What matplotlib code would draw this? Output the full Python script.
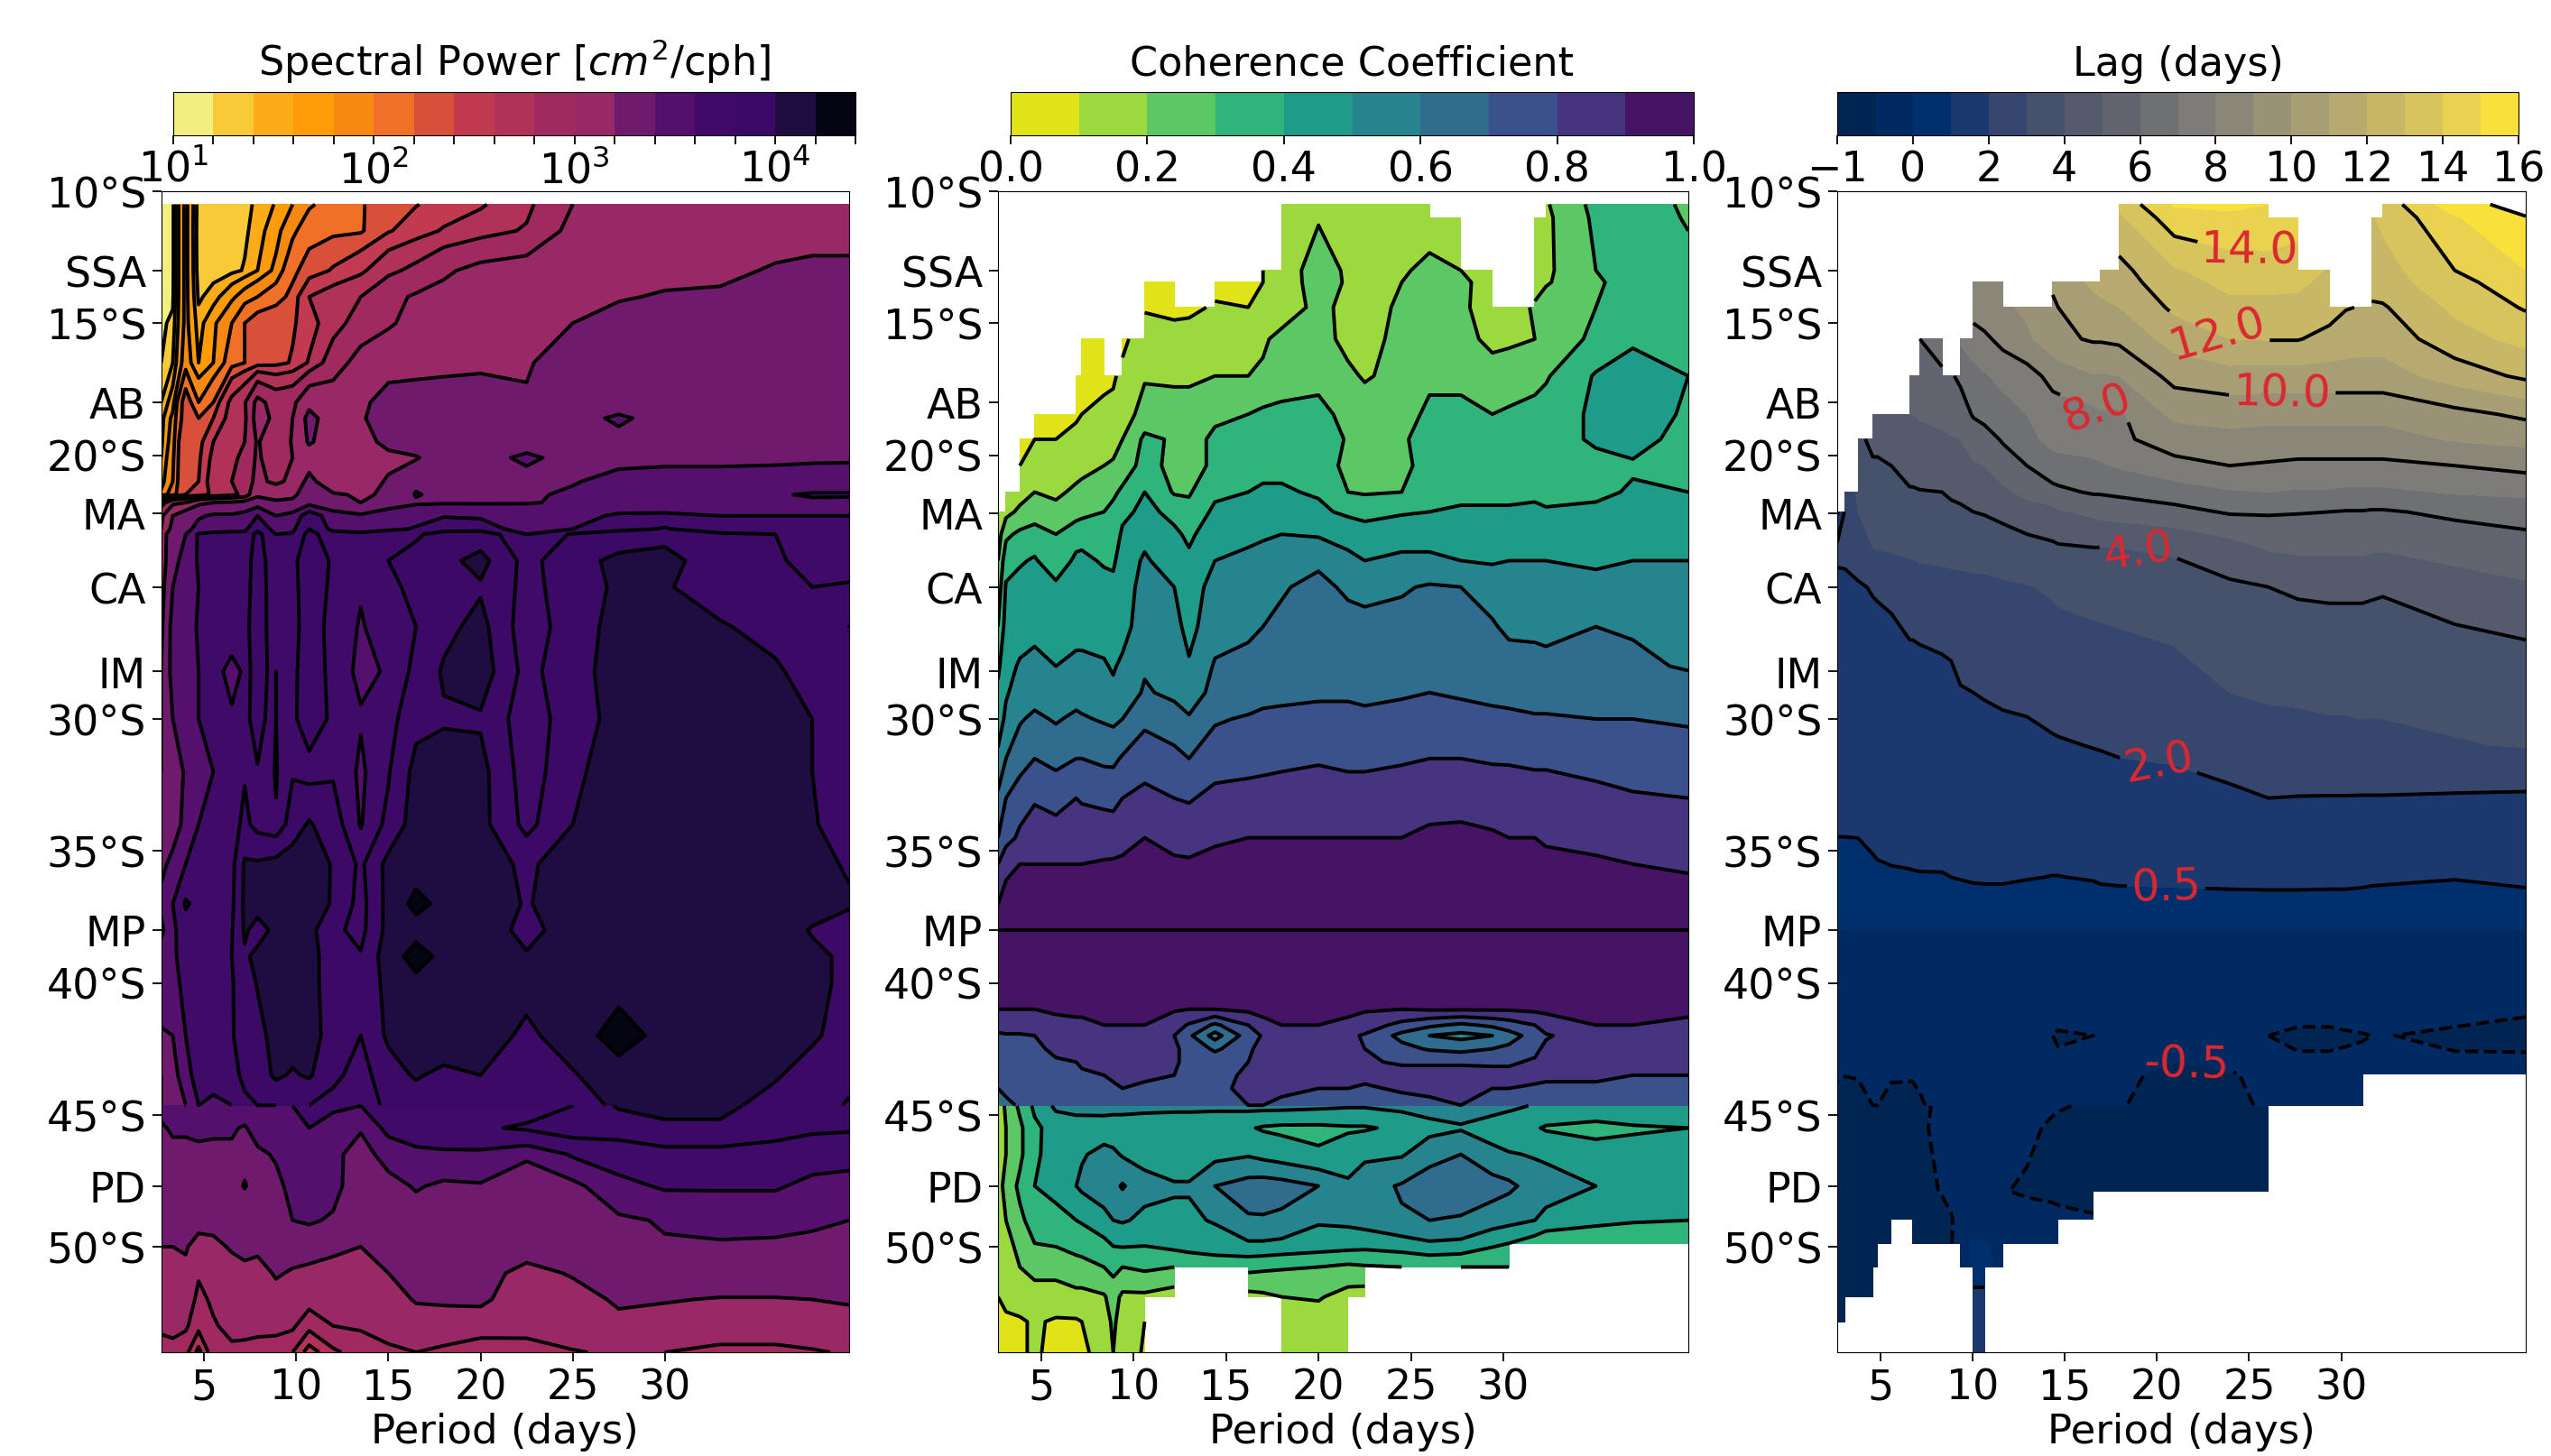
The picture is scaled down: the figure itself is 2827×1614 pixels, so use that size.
import numpy as np
import matplotlib
matplotlib.use('Agg')
from matplotlib import pyplot as plt
from matplotlib.colors import LogNorm

plt.rcParams['font.size'] = 33

n = np.nan
W, H = 2827, 1615

lat_ticks = [10, 13, 15, 18, 20, 22.2, 25, 28.2, 30, 35, 38, 40, 45, 47.7, 50]
lat_labels = ['10°S', 'SSA', '15°S', 'AB', '20°S', 'MA', 'CA', 'IM', '30°S', '35°S', 'MP', '40°S', '45°S', 'PD', '50°S']
period_ticks = [5, 10, 15, 20, 25, 30]

# Spectral power, log10 of cm2/cph times 100
power_periods = [2.67, 3.3, 4, 4.7, 5.5, 6.5, 7.2, 7.9, 8.9, 9.8, 10.7, 12, 13.5, 15, 16.5, 18, 20, 22.5, 25, 27.5, 30, 33, 36, 38, 40]
power_lats = [10.5, 11.5, 13, 14, 15, 16.5, 18, 18.6, 19.5, 20.1, 21, 21.5, 21.8, 22.3, 22.8, 23, 24, 25, 26.5, 28.2, 30, 32, 34, 35.5, 37, 38, 39, 40, 42, 43.5, 44.64, 44.66, 45.5, 46.5, 47.7, 49, 50, 51, 52, 53, 54]
power_log = [
    [110,112,185,125,130,135,137,142,162,180,197,208,218,230,239,247,257,275,300,310,310,310,310,310,310],
    [112,112,185,122,125,130,135,150,172,195,212,215,217,238,250,262,272,282,305,310,310,310,310,310,310],
    [115,112,185,125,128,133,142,160,185,215,228,242,255,275,285,297,305,308,310,312,313,315,322,325,325],
    [115,115,185,135,150,175,190,200,212,225,260,270,280,295,302,305,310,312,314,318,322,323,323,323,323],
    [115,125,185,150,175,200,220,230,233,237,250,272,288,298,305,308,310,313,320,328,328,328,328,328,328],
    [120,140,190,160,180,210,220,228,233,242,262,290,307,310,313,317,318,319,325,330,330,330,330,330,330],
    [140,170,230,200,220,265,278,305,292,295,315,310,315,328,328,325,325,321,330,333,335,335,335,335,335],
    [150,185,230,220,240,268,275,308,295,300,325,310,318,328,330,330,332,333,335,342,335,335,335,335,335],
    [155,190,240,230,260,270,280,302,280,302,322,310,312,325,332,330,335,335,336,336,335,335,335,335,335],
    [160,195,240,235,265,275,285,303,285,300,310,308,310,315,318,332,336,342,336,336,336,336,337,338,338],
    [170,200,240,240,270,280,290,305,295,305,325,305,310,322,337,330,333,336,339,344,346,346,346,346,347],
    [185,210,240,245,265,275,285,318,315,318,325,322,318,322,341,336,337,338,342,346,348,352,358,362,362],
    [270,295,300,315,320,322,325,325,322,322,330,322,320,335,338,338,338,339,342,350,352,354,356,356,355],
    [295,320,330,338,342,342,345,360,340,345,370,348,342,345,350,358,356,350,355,362,362,360,360,360,360],
    [300,325,335,345,350,350,355,375,350,355,380,352,350,355,362,375,372,345,360,372,382,362,362,362,362],
    [310,330,340,362,365,368,365,385,360,362,385,370,365,372,378,385,390,360,382,392,395,385,380,375,370],
    [305,335,345,362,365,368,368,390,362,370,398,375,365,380,385,395,405,370,395,403,405,390,382,375,370],
    [310,340,345,360,362,365,370,390,365,372,392,375,362,375,385,395,398,372,390,403,402,388,382,380,382],
    [315,345,350,362,360,368,372,392,362,372,390,372,358,370,380,395,405,362,392,405,405,402,392,385,380],
    [320,345,355,360,365,355,362,395,360,372,395,370,355,362,385,402,408,370,395,405,408,408,403,390,382],
    [320,340,350,360,362,362,372,390,360,375,392,375,362,370,395,398,398,362,392,405,408,408,405,400,385],
    [320,330,342,355,360,362,378,378,358,378,370,378,355,378,405,408,405,365,395,410,410,410,408,400,388],
    [325,330,345,360,362,370,385,372,362,390,402,388,358,385,408,410,405,372,400,412,412,412,410,402,388],
    [335,345,360,370,368,372,402,402,405,408,412,398,375,405,410,412,410,395,412,413,413,413,412,405,398],
    [345,360,382,375,378,375,403,405,408,410,410,398,370,405,425,415,412,398,412,413,413,413,412,410,402],
    [335,355,372,380,372,378,402,395,403,408,405,385,372,405,412,413,412,392,410,412,413,413,412,398,392],
    [350,352,375,375,378,380,398,403,405,408,405,392,382,408,428,414,412,402,412,413,413,413,412,405,395],
    [360,345,370,378,378,378,392,401,408,410,405,392,385,405,414,414,412,407,412,413,413,413,412,405,395],
    [335,340,360,372,370,378,390,395,405,408,408,390,380,403,410,412,410,395,410,427,414,413,410,403,390],
    [320,330,352,368,368,372,385,390,403,398,402,385,370,392,402,395,400,392,398,412,413,412,402,390,385],
    [320,325,340,360,355,360,375,380,380,385,380,372,365,385,388,385,385,382,385,405,408,405,392,388,378],
    [345,348,350,350,350,350,352,358,358,360,362,362,360,362,368,370,368,372,380,402,403,403,395,385,380],
    [338,342,342,343,342,342,338,348,352,358,360,355,342,365,375,377,378,382,388,388,398,398,388,383,382],
    [330,336,336,337,337,337,335,336,342,348,352,345,330,348,352,355,355,342,362,368,370,370,370,368,367],
    [328,330,332,333,333,333,341,333,335,345,350,345,328,332,342,336,338,332,333,355,362,362,362,355,352],
    [322,325,326,328,326,326,326,326,333,340,342,338,328,328,328,332,330,328,330,336,342,345,345,342,340],
    [320,320,322,310,315,322,325,324,326,328,328,325,320,328,338,335,332,330,328,338,338,338,337,337,336],
    [312,315,315,302,306,312,315,312,322,318,315,310,305,320,328,328,328,312,322,330,330,330,330,330,330],
    [308,310,310,295,303,308,310,308,312,308,307,302,300,308,322,323,324,305,310,323,321,319,319,320,321],
    [304,304,303,285,298,305,305,305,305,303,285,300,302,304,306,308,307,306,308,314,313,310,310,312,316],
    [290,295,285,250,290,296,295,292,290,280,245,275,290,298,300,297,290,292,299,302,300,295,295,298,302],
]

# Coherence coefficient times 100, n where nothing is significant
coh_periods = [2.67, 3.1, 3.85, 4.65, 5.8, 6.9, 7.2, 8.4, 8.9, 9.4, 10.6, 12.2, 13, 14.4, 16.2, 17, 18, 20, 21.6, 22.5, 24.5, 26, 27.7, 29.4, 30.3, 31.7, 32.3, 35, 37, 40]
coh_lats = [10.5, 11, 13, 13.45, 14.4, 15.6, 17, 18.45, 19.4, 20.4, 21.4, 22.15, 23, 24, 25, 26.5, 28, 29, 30, 31.5, 33, 34.5, 35.5, 37.95, 38, 38.05, 41, 41.6, 42, 42.5, 43, 43.5, 44, 44.64, 44.66, 45.5, 46.5, 47.7, 49, 49.87, 50.77, 51.9, 52.84, 54]
coh = [
    [n]*16 + [13,16,16,16,15,15] + [n]*4 + [19,33,36,28],
    [n]*16 + [12,19,17,16,16,16,15] + [n]*2 + [15,18,32,36,29],
    [n]*15 + [10,13,26,18,16,19,22,20,16,n,17,18,30,36,33],
    [n]*10 + [8,8,n,7,8,10,15,24,19,17,20,23,22,16,n,17,19,28,36,34],
    [n]*10 + [9,8,8,11,10,13,16,22,18,15,22,25,22,15,16,21,25,30,36,31],
    [n]*6 + [7,7,n,8,15,13,14,16,18,19,22,24,17,14,25,28,24,17,18,20,24,32,38,32],
    [n]*5 + [8,8,9,9,12,19,18,18,20,20,21,24,27,22,19,23,28,28,25,26,28,29,41,46,40],
    [n]*3 + [8,8,9,10,11,12,15,24,25,25,28,30,32,33,33,27,25,26,32,32,30,31,32,34,42,47,38],
    [n]*2 + [7,10,10,12,13,16,17,20,32,29,26,32,35,35,36,36,29,25,29,33,35,35,35,36,37,41,43,37],
    [n]*2 + [10,15,13,16,17,20,21,24,34,27,24,33,37,38,38,38,26,25,28,33,35,35,36,38,37,38,39,39],
    [n] + [10,16,20,18,22,23,26,28,32,40,29,29,38,40,41,41,39,30,29,30,37,38,38,38,39,37,38,41,40],
    [10,17,22,24,23,26,27,30,33,37,43,37,33,42,44,44,44,42,38,37,39,40,41,41,41,41,41,42,42,42],
    [15,28,32,35,30,36,37,34,33,42,48,42,38,46,48,49,50,49,47,44,46,46,46,46,45,45,46,46,46,47],
    [20,36,39,41,34,42,42,39,38,46,51,46,42,50,52,53,54,58,52,50,52,52,50,49,50,50,50,49,50,50],
    [24,41,43,44,42,44,44,43,43,46,53,50,46,53,55,57,59,63,58,57,59,61,60,56,54,53,53,52,52,53],
    [30,44,46,47,46,47,47,46,45,46,56,53,47,56,58,60,62,66,64,63,63,66,65,61,58,58,58,60,59,59],
    [38,47,51,53,50,52,52,51,49,52,59,56,51,61,63,65,66,68,67,66,67,68,67,65,64,63,62,63,62,59],
    [42,49,54,56,54,56,56,53,52,55,61,58,55,63,65,67,68,69,69,68,69,70,69,68,67,66,66,66,65,65],
    [45,52,59,62,59,62,61,59,58,60,68,64,61,69,71,72,72,72,72,72,73,74,73,72,72,71,71,70,70,69],
    [52,60,66,70,67,70,70,68,68,71,75,73,70,75,76,77,78,79,78,78,79,80,80,79,79,78,78,76,75,74],
    [62,70,75,79,77,80,79,78,77,80,83,80,79,83,84,84,84,85,84,84,85,86,87,86,85,85,85,83,81,80],
    [70,76,82,85,84,86,86,85,86,88,90,88,87,89,90,90,90,90,90,90,90,92,92,91,90,90,89,88,87,85],
    [80,88,90,90,90,90,90,91,91,91,92,91,91,92,92,92,92,92,92,92,92,94,94,93,92,92,92,91,90,89],
    [96]*30,
    [100]*30,
    [96]*30,
    [90,90,90,90,91,91,91,92,92,92,92,91,90,90,92,92,93,93,92,91,90,91,91,91,91,92,92,92,92,91],
    [85,85,85,86,88,89,89,90,90,90,90,84,79,68,80,88,90,90,88,85,77,72,68,72,75,80,85,90,90,89],
    [78,79,79,80,84,85,85,86,87,88,87,80,72,56,75,81,84,85,82,79,67,60,57,60,66,74,79,86,86,86],
    [76,76,77,78,82,83,83,84,85,86,85,81,78,68,78,84,85,86,84,80,73,69,67,70,72,78,82,86,86,86],
    [74,74,76,76,79,80,81,81,82,83,84,81,78,77,80,83,84,84,83,81,79,79,79,79,79,81,83,85,85,85],
    [71,73,75,75,78,79,79,80,81,82,82,80,79,78,81,83,83,83,83,82,83,83,83,82,82,82,81,81,80,80],
    [70,72,74,74,77,78,78,79,79,80,78,79,78,79,81,81,81,80,80,79,81,81,82,80,80,79,79,79,78,78],
    [66,68,71,72,73,74,74,75,76,77,76,76,76,76,80,80,79,78,77,76,77,79,80,77,77,76,76,76,75,75],
    [12,22,32,42,52,53,53,54,54,54,53,52,52,52,53,53,53,52,51,51,53,54,55,54,53,49,48,47,47,45],
    [12,20,28,38,44,46,46,45,44,44,44,45,45,44,41,39,38,38,39,39,42,47,49,45,41,41,39,37,39,40],
    [10,20,28,38,45,48,49,53,52,49,47,44,44,47,49,47,45,41,44,48,49,56,60,53,51,49,48,44,43,42],
    [15,24,32,40,44,50,52,57,57,61,53,51,51,60,64,65,64,60,52,56,61,66,66,64,62,56,55,50,47,43],
    [12,20,28,34,36,40,41,46,50,51,48,48,48,51,59,59,58,51,52,54,59,60,59,55,53,50,47,43,41,40],
    [10,18,22,30,31,33,34,38,41,42,41,44,45,45,49,49,48,46,45,44,46,49,48,42,40,35,32,31,31,31],
    [12,16,20,24,24,27,27,30,33,30,32,30,32,35,33,32,31,30,28,29,30,31,30,30,30] + [n]*5,
    [10,13,14,15,15,17,17,19,24,18,18,15,n,n,17,18,20,21,16,15] + [n]*10,
    [9,8,9,11,9,9,10,15,22,15,10] + [n]*5 + [13,15,12] + [n]*11,
    [8,8,9,11,8,8,9,12,20,15,9] + [n]*5 + [11,15,12] + [n]*11,
]

# Lag in days, n where the coherence is not significant
lag_periods = [2.67, 3.1, 3.8, 4.6, 4.85, 5.6, 6.6, 6.75, 7.15, 8.35, 8.85, 9.35, 10.05, 10.65, 11.65, 12.95, 14.35, 14.65, 16.55, 16.95, 17.95, 20.95, 23.95, 26.05, 27.65, 29.35, 30.25, 31.15, 31.65, 32.25, 36.15, 40]
lag_lats = [10.5, 11, 13, 13.45, 14.4, 15.6, 17, 18.45, 19.4, 20.4, 21.4, 22.15, 23.5, 25, 27, 29, 31, 33, 35, 36, 37.95, 38.05, 41, 42, 43, 43.46, 44.64, 44.66, 45.5, 47.9, 48.95, 49.87, 50.77, 51.9, 52.84, 54]
lag = [
    [n]*20 + [13.3,15.1,15.1,15.0] + [n]*5 + [13.4,15.6,16.4],
    [n]*20 + [12.8,14.6,14.9,14.8,14.5] + [n]*3 + [12.9,13.2,14.9,15.95],
    [n]*19 + [11.5,11.7,12.9,13.4,13.5,13.4,12.9] + [n]*2 + [12.5,12.6,14.0,15.0],
    [n]*12 + [9.0,8.9,8.9,n,10.1,10.3,11.2,11.3,11.5,12.7,13.2,13.2,13.2,12.7,n,n,12.3,12.5,13.7,14.6],
    [n]*12 + [8.4,8.6,8.8,9.2,9.9,10.0,10.6,10.8,11.0,12.2,12.8,12.8,12.7,12.4,12.05,11.95,11.9,11.9,13.2,14.1],
    [n]*8 + [6.0,6.6,n,7.2,7.6,7.8,8.3,8.8,9.6,9.8,10.1,10.1,10.2,11.4,12.0,12.05,12.05,11.7,11.5,11.4,11.4,11.4,12.6,13.3],
    [n]*6 + [5.3,5.3,5.4,5.8,5.9,6.2,6.6,6.9,7.3,7.6,8.3,8.4,8.95,8.9,9.0,10.33,10.6,10.55,10.55,10.55,10.55,10.55,10.55,10.55,11.45,12.2],
    [n]*3 + [4.6,4.6,4.8,5.0,5.0,5.1,5.3,5.5,5.5,6.1,6.3,6.55,7.0,7.55,7.55,7.74,7.9,7.85,9.24,9.4,9.3,9.3,9.3,9.3,9.3,9.3,9.3,9.7,10.2],
    [n]*2 + [3.8,4.2,4.2,4.3,4.6,4.6,4.7,4.8,4.9,5.0,5.4,5.6,6.1,6.7,7.3,7.4,7.5,7.6,7.8,8.5,8.7,8.6,8.6,8.6,8.6,8.6,8.6,8.6,9.1,9.3],
    [n]*2 + [3.6,3.9,3.9,4.0,4.2,4.2,4.3,4.4,4.5,4.6,4.9,5.0,5.5,6.0,6.6,6.6,6.8,6.9,7.1,7.7,8.0,7.9,7.8,7.8,7.8,7.8,7.8,7.8,8.0,8.3],
    [n] + [2.2,3.2,3.5,3.6,3.7,3.95,3.95,3.97,4.0,4.1,4.15,4.4,4.5,4.8,5.3,5.7,5.8,6.1,6.1,6.2,6.5,6.9,7.0,6.9,6.9,6.8,6.8,6.8,6.8,7.1,7.2],
    [0.3,2.2,3.0,3.3,3.4,3.5,3.7,3.7,3.75,3.8,3.85,3.9,4.0,4.05,4.2,4.5,4.7,4.9,5.2,5.3,5.4,5.7,6.1,6.1,6.05,6.0,5.95,5.95,5.9,5.9,6.2,6.5],
    [2.3,2.3,2.8,3.0,3.05,3.1,3.2,3.2,3.3,3.35,3.4,3.4,3.45,3.5,3.6,3.7,3.85,3.9,4.0,4.0,4.0,4.1,4.6,5.1,5.2,5.2,5.2,5.2,5.15,5.1,5.35,5.5],
    [1.7,1.75,1.85,2.1,2.15,2.3,2.5,2.5,2.55,2.6,2.65,2.7,2.75,2.75,2.85,2.95,3.1,3.15,3.25,3.3,3.35,3.7,3.85,4.0,4.15,4.2,4.2,4.2,4.15,4.1,4.6,4.9],
    [1.4,1.4,1.45,1.55,1.6,1.7,2.0,2.0,2.05,2.15,2.2,2.3,2.35,2.4,2.5,2.55,2.7,2.75,2.85,2.85,2.9,3.05,3.3,3.4,3.5,3.55,3.55,3.55,3.55,3.55,3.75,4.0],
    [1.2,1.2,1.22,1.25,1.25,1.3,1.4,1.4,1.5,1.6,1.7,1.95,2.0,2.1,2.2,2.25,2.35,2.4,2.45,2.5,2.55,2.65,3.0,3.1,3.1,3.15,3.15,3.15,3.15,3.15,3.25,3.35],
    [1.05,1.05,1.05,1.05,1.05,1.08,1.1,1.1,1.15,1.2,1.25,1.3,1.35,1.4,1.6,1.7,1.9,1.92,2.03,2.05,2.12,2.15,2.4,2.65,2.75,2.8,2.8,2.85,2.85,2.85,2.95,3.05],
    [0.72,0.72,0.75,0.8,0.8,0.9,0.95,0.95,1.0,1.1,1.15,1.2,1.22,1.25,1.28,1.3,1.35,1.35,1.5,1.55,1.6,1.75,1.85,2.0,1.97,1.96,1.96,1.95,1.95,1.95,1.9,1.85],
    [0.42,0.42,0.42,0.52,0.55,0.6,0.63,0.63,0.64,0.62,0.62,0.6,0.6,0.58,0.6,0.65,0.63,0.65,0.64,0.66,0.67,0.75,0.78,0.8,0.82,0.84,0.85,0.87,0.87,0.89,0.88,0.82],
    [0.3,0.3,0.3,0.35,0.4,0.42,0.44,0.45,0.46,0.47,0.5,0.52,0.55,0.56,0.56,0.52,0.49,0.49,0.53,0.56,0.58,0.6,0.62,0.63,0.63,0.62,0.62,0.6,0.58,0.57,0.52,0.6],
    [0.1]*32,
    [-0.1]*32,
    [-0.3]*31 + [-0.45],
    [-0.4]*16 + [-0.5,-0.55,-0.5,-0.42,-0.4,-0.38,-0.4,-0.5,-0.6,-0.6,-0.55,-0.52,-0.5,-0.48,-0.6,-0.62],
    [-0.43]*21 + [-0.5] + [-0.43]*10,
    [-0.47,-0.49,-0.49,-0.47,-0.47,-0.47,-0.47,-0.47,-0.47,-0.45,-0.44,-0.44,-0.44,-0.44,-0.44,-0.44,-0.44,-0.44,-0.44,-0.44,-0.45,-0.56,-0.52,-0.44,-0.44,-0.44,-0.44,-0.44,-0.44,-0.44,-0.44,-0.44],
    [-0.6,-0.62,-0.55,-0.5,-0.5,-0.58,-0.6,-0.6,-0.52,-0.44,-0.44,-0.44,-0.44,-0.44,-0.44,-0.46,-0.47,-0.48,-0.45,-0.45,-0.48,-0.62,-0.58,-0.45,-0.42,-0.42,-0.42,-0.42] + [n]*4,
    [-0.7,-0.7,-0.65,-0.6,-0.55,-0.6,-0.65,-0.65,-0.6,-0.4,-0.4,-0.4,-0.38,-0.38,-0.4,-0.42,-0.45,-0.47,-0.55,-0.58,-0.6,-0.7,-0.7,-0.7] + [n]*8,
    [-0.7,-0.7,-0.7,-0.7,-0.7,-0.7,-0.7,-0.7,-0.55,-0.42,-0.38,-0.38,-0.38,-0.38,-0.38,-0.42,-0.56,-0.58,-0.7,-0.7,-0.7,-0.7,-0.7,-0.7] + [n]*8,
    [-0.7,-0.7,-0.7,-0.7,-0.7,-0.7,-0.7,-0.7,-0.6,-0.48,-0.43,-0.35,-0.35,-0.35,-0.48,-0.55,-0.62,-0.65,-0.7,-0.7,-0.7,-0.7,-0.7,-0.7] + [n]*8,
    [-0.7,-0.7,-0.7,-0.7,-0.7,-0.7,-0.7,-0.7,-0.7,-0.6,-0.52,-0.38,-0.3,-0.3,-0.3,-0.32,-0.33,-0.35,-0.45] + [n]*13,
    [-0.68,-0.68,-0.68,-0.68,-0.68,-0.68,n,-0.65,-0.65,-0.6,-0.52,-0.3,0.05,0.05,-0.2,-0.25,-0.3,-0.3] + [n]*14,
    [-0.7,-0.7,-0.7,-0.7,-0.7] + [n]*6 + [-0.2,0.1,0.1,-0.1] + [n]*17,
    [-0.65,-0.65,-0.65,-0.65] + [n]*8 + [0.7,0.7] + [n]*18,
    [-0.6,-0.6] + [n]*10 + [0.8,0.8] + [n]*18,
    [-0.6,n] + [n]*10 + [0.8,0.8] + [n]*18,
]

power_levels = np.logspace(1, 4.4, 18)
power_colors = ['#f2ef80', '#f9ca38', '#fcac16', '#fd9b08', '#f68a10', '#f07025', '#d9503a', '#c23a50', '#b03258',
                '#a02a60', '#982866', '#701a6e', '#55106e', '#3f0a68', '#3c0a66', '#1f0c40', '#040412']
coh_levels = np.arange(0, 1.01, 0.1)
coh_lines = [0.1, 0.2, 0.3, 0.4, 0.5, 0.6, 0.7, 0.8, 0.9, 0.995]
lag_levels = [-1, -0.5, 0, 0.5, 2, 3, 4, 5, 6, 7, 8, 9, 10, 11, 12, 13, 14, 15, 16]
lag_lines = [-0.5, 0.5, 2, 4, 6, 8, 10, 12, 14, 16]
lag_label_spots = [(25.06, 11.86), (23.1, 15.7), (26.8, 17.5), (17.07, 17.86),
                   (19.2, 22.9), (20.2, 31.24), (20.5, 36.55), (21.66, 42.93)]

fig = plt.figure(figsize=(W/100, H/100), dpi=100)


def px_axes(x0, y0, x1, y1):
    return fig.add_axes([x0/W, 1 - y1/H, (x1 - x0)/W, (y1 - y0)/H])


def style_axes(ax):
    ax.set_xlim(2.67, 40)
    ax.set_ylim(54, 10)
    ax.set_xticks(period_ticks)
    ax.set_yticks(lat_ticks, lat_labels)
    ax.tick_params(length=7, width=1.3, pad=5)
    ax.set_xlabel('Period (days)', fontsize=32.5, labelpad=3)


def split_contour(ax, x, lats, Z, levels, corner_mask=True):
    # the two sides of the 44.65 jump come from separate records: no line along it
    lats = np.array(lats)
    north = lats < 44.65
    cs = ax.contour(x, lats[north], Z[north], levels=levels, colors='k', linewidths=2.8, corner_mask=corner_mask)
    ax.contour(x, lats[~north], Z[~north], levels=levels, colors='k', linewidths=2.8, corner_mask=corner_mask)
    return cs


# Spectral power
ax1 = px_axes(178.6, 213, 941, 1500)
Z1 = 10**(np.array(power_log)/100)
cf1 = ax1.contourf(power_periods, power_lats, Z1, levels=power_levels, colors=power_colors,
                   norm=LogNorm(vmin=10, vmax=10**4.4))
split_contour(ax1, power_periods, power_lats, Z1, power_levels)
style_axes(ax1)

cax1 = px_axes(192, 103, 948, 151)
cb1 = fig.colorbar(cf1, cax=cax1, orientation='horizontal')
cb1.minorticks_off()
cb1.set_ticks(power_levels, labels=['$\\mathdefault{10^{%d}}$' % round(np.log10(v)) if i % 5 == 0 else '' for i, v in enumerate(power_levels)])
cb1.ax.tick_params(length=7, width=1.3, pad=4)
cax1.set_title('Spectral Power [$cm^2$/cph]', fontsize=32, pad=14)

# Coherence
ax2 = px_axes(1106, 213, 1871, 1500)
Z2 = np.array(coh, dtype=float)/100
cf2 = ax2.contourf(coh_periods, coh_lats, Z2, levels=coh_levels, cmap='viridis_r', corner_mask=False)
split_contour(ax2, coh_periods, coh_lats, Z2, coh_lines, corner_mask=False)
style_axes(ax2)

cax2 = px_axes(1120, 103, 1877, 151)
cb2 = fig.colorbar(cf2, cax=cax2, orientation='horizontal')
cb2.set_ticks([0, 0.2, 0.4, 0.6, 0.8, 1.0])
cb2.ax.tick_params(length=7, width=1.3, pad=4)
cb2.minorticks_off()
cax2.set_title('Coherence Coefficient', fontsize=32, pad=14)

# Lag
ax3 = px_axes(2036, 213, 2799, 1500)
Z3 = np.array(lag, dtype=float)
cf3 = ax3.contourf(lag_periods, lag_lats, Z3, levels=lag_levels, cmap='cividis', corner_mask=False)
cs3 = split_contour(ax3, lag_periods, lag_lats, Z3, lag_lines, corner_mask=False)
ax3.clabel(cs3, fmt='%.1f', colors='#dc2830', fontsize=35, manual=lag_label_spots)
style_axes(ax3)

cax3 = px_axes(2036, 103, 2791, 151)
cb3 = fig.colorbar(cf3, cax=cax3, orientation='horizontal')
cb3.set_ticks([-1, 0, 2, 4, 6, 8, 10, 12, 14, 16])
cb3.ax.tick_params(length=7, width=1.3, pad=4)
cb3.minorticks_off()
cax3.set_title('Lag (days)', fontsize=32, pad=14)

fig.savefig('out.png', dpi=100)
